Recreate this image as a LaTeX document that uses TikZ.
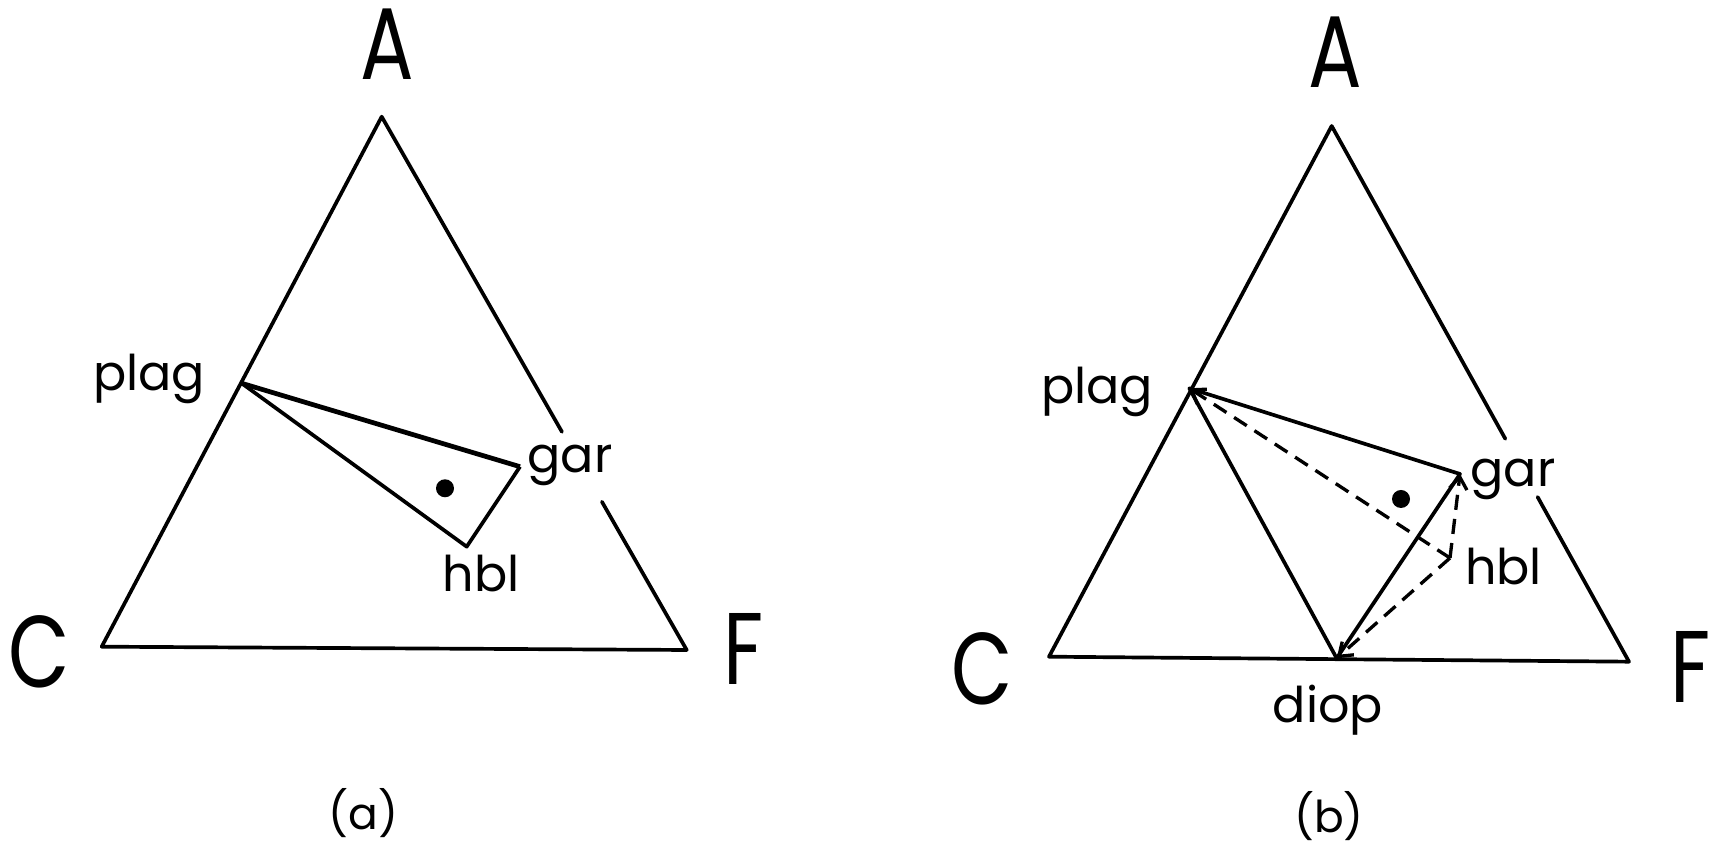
\documentclass[tikz,border=0pt]{standalone}
\usepackage{fontspec}
\newfontfamily\letterfont{Poppins}
\usetikzlibrary{arrows.meta,calc}

\begin{document}
\begin{tikzpicture}[
  x=0.1mm, y=-0.1mm,
  rim/.style={line width=1.05pt, line join=round, line cap=round},
  tie/.style={line width=1.05pt, line join=round},
  proj/.style={line width=0.95pt, dash pattern=on 4.3pt off 2.6pt, -{Straight Barb[length=3.5pt,width=5pt]}},
  endmember/.style={font=\letterfont\fontsize{29}{29}\selectfont, xscale=0.78, anchor=base, inner sep=0pt},
  phaselab/.style={font=\letterfont\fontsize{14}{14}\selectfont, anchor=base, inner sep=0pt},
  panellab/.style={font=\letterfont\fontsize{12.5}{12.5}\selectfont, anchor=base, inner sep=0pt},
  comp/.style={circle, fill, inner sep=0pt, minimum size=1.8mm}
]
  \useasboundingbox (0,0) rectangle (1721,849);

  % Panel (a): ACF triangle
  \coordinate (aA) at (381.7,116.7);
  \coordinate (aC) at (101.7,646.7);
  \coordinate (aF) at (686.7,650);
  \coordinate (agap1) at ($(aA)!0.591!(aF)$);
  \coordinate (agap2) at ($(aA)!0.722!(aF)$);
  \draw[rim] (agap1) -- (aA) -- (aC) -- (aF) -- (agap2);

  \node[endmember] (aAlab) at (387,80) {A};
  \node[endmember] (aClab) at (39,688) {C};
  \node[endmember] (aFlab) at (744,685) {F};

  % Panel (a): plag-gar-hbl field
  \coordinate (aplag) at (241.7,383.3);
  \coordinate (agar) at (520,466.7);
  \coordinate (ahbl) at (466.7,546.7);
  \draw[tie, line width=1.35pt] (aplag) -- (agar);
  \draw[tie] (agar) -- (ahbl) -- (aplag);
  \node[comp] (acomp) at (445,488.3) {};

  \node[phaselab] (aplaglab) at (149,391) {plag};
  \node[phaselab] (agarlab) at (570,473) {gar};
  \node[phaselab] (ahbllab) at (481,592) {hbl};
  \node[panellab] (acap) at (363.5,830) {(a)};

  % Panel (b): ACF triangle
  \coordinate (bA) at (1331.7,126);
  \coordinate (bC) at (1049,656.7);
  \coordinate (bF) at (1629,661.7);
  \coordinate (bgap1) at ($(bA)!0.584!(bF)$);
  \coordinate (bgap2) at ($(bA)!0.6925!(bF)$);
  \draw[rim] (bgap1) -- (bA) -- (bC) -- (bF) -- (bgap2);

  \node[endmember] (bAlab) at (1335,88) {A};
  \node[endmember] (bClab) at (982,705) {C};
  \node[endmember] (bFlab) at (1691,703) {F};

  % Panel (b): plag-gar-diop field, hbl projected
  \coordinate (bplag) at (1189.3,388.3);
  \coordinate (bgar) at (1460,474);
  \coordinate (bdiop) at (1336.7,658.3);
  \coordinate (bhbl) at (1450,558);
  \draw[tie] (bgar) -- (bplag) -- (bdiop) -- cycle;
  \foreach \t in {bplag,bgar,bdiop}
    \draw[proj] (bhbl) -- (\t);
  \node[comp] (bcomp) at (1401,499) {};

  \node[phaselab] (bplaglab) at (1097,404) {plag};
  \node[phaselab] (bgarlab) at (1513,487) {gar};
  \node[phaselab] (bhbllab) at (1503.5,585) {hbl};
  \node[phaselab] (bdioplab) at (1328,723) {diop};
  \node[panellab] (bcap) at (1329,833) {(b)};
\end{tikzpicture}
\end{document}
